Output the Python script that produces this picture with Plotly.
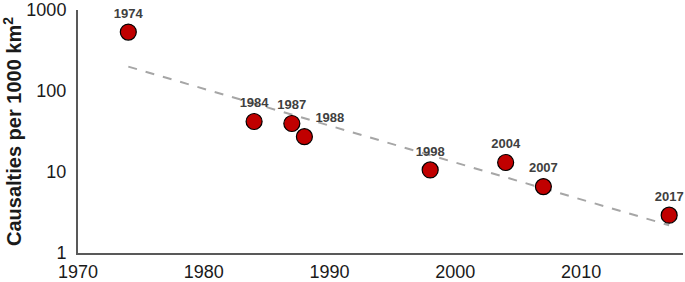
import plotly.graph_objects as go

years = [1974, 1984, 1987, 1988, 1998, 2004, 2007, 2017]
casualties = [534, 42, 39.7, 27.3, 10.6, 13.1, 6.6, 2.93]
labels = [str(y) for y in years]
label_pos = ["top center", "top center", "top center", "top right",
             "top center", "top center", "top center", "top center"]

trend_years = [1974, 2017]
trend_values = [200, 2.2]

x_ticks = [1970, 1980, 1990, 2000, 2010]
y_ticks = [1, 10, 100, 1000]
y_ticktext = ["1", "10", "100", "1000"]

font_family = "Liberation Sans, Arial, sans-serif"

fig = go.Figure()
fig.add_trace(go.Scatter(
    x=trend_years, y=trend_values, mode="lines",
    line=dict(color="#A6A6A6", width=2, dash="dash"),
    hoverinfo="skip", showlegend=False,
))
fig.add_trace(go.Scatter(
    x=years, y=casualties, mode="markers+text",
    text=labels, textposition=label_pos,
    textfont=dict(family=font_family, size=13, color="#404040", weight="bold"),
    marker=dict(size=16, color="#C00000", line=dict(color="#000000", width=1.2)),
    showlegend=False, cliponaxis=False,
))

fig.update_layout(
    width=685, height=282,
    margin=dict(l=78, r=2, t=10, b=29),
    paper_bgcolor="white", plot_bgcolor="white",
    font=dict(family=font_family, color="#1a1a1a"),
    showlegend=False,
)
fig.update_xaxes(
    range=[1970, 2018.1], tickvals=x_ticks, showgrid=False, zeroline=False,
    showline=True, linecolor="#595959", linewidth=2,
    ticks="", tickfont=dict(size=18, color="#1a1a1a"),
    ticklabelstandoff=1, ticklabeloverflow="allow", automargin=False,
)
fig.update_yaxes(
    type="log", range=[0, 3], tickvals=y_ticks, ticktext=y_ticktext,
    showgrid=False, zeroline=False,
    showline=True, linecolor="#595959", linewidth=2,
    ticks="", tickfont=dict(size=18, color="#1a1a1a"),
    ticklabelstandoff=6, ticklabeloverflow="allow", automargin=False,
    title=dict(text="<b>Causalties per 1000 km<sup>2</sup></b>",
               font=dict(size=20, color="#1a1a1a"), standoff=10),
)

fig.write_html(
    "out.html",
    config={"displayModeBar": False},
    post_script="document.body.style.margin='0';document.body.style.overflow='hidden';",
)
